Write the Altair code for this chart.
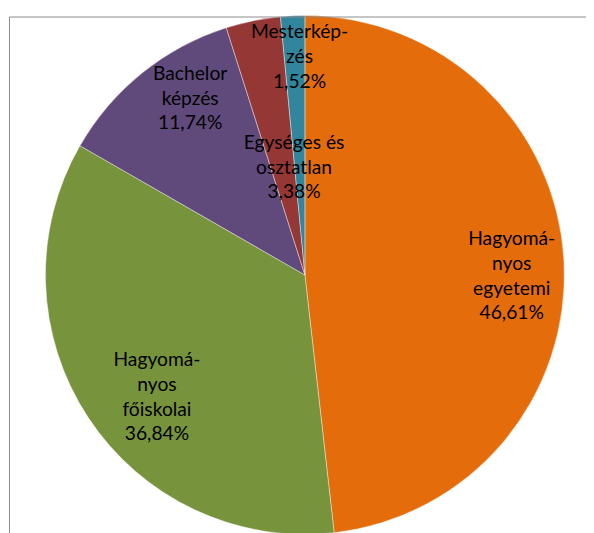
import altair as alt
import pandas as pd

# --- data -------------------------------------------------------------------
categories = [
    "Hagyományos egyetemi",
    "Hagyományos főiskolai",
    "Bachelor képzés",
    "Egységes és osztatlan",
    "Mesterképzés",
]
# percentages printed in the labels
label_pct = ["46,61%", "36,84%", "11,74%", "3,38%", "1,52%"]
# label wording as broken in the picture
label_words = [
    "Hagyomá-\nnyos\negyetemi",
    "Hagyomá-\nnyos\nfőiskolai",
    "Bachelor\nképzés",
    "Egységes és\nosztatlan",
    "Mesterkép-\nzés",
]
# slice sizes (percent) as drawn in the picture
slice_share = [48.2, 35.1, 11.8, 3.4, 1.5]

colors = ["#E46C0A", "#77933C", "#604A7B", "#953735", "#31859C"]

# --- label layout (pixels) --------------------------------------------------
LINE_H = 25
label_radius = [203, 195, 214, 110, 221]
label_dx = [7, 13, 18, 11, 5]
label_dy = [13, 17, -12, -1, 0]

labels_text = [w + "\n" + p for w, p in zip(label_words, label_pct)]
# Vega anchors the first line; shift each block so it is centred on its anchor
label_dy_centered = [d - t.count("\n") * LINE_H / 2 for d, t in zip(label_dy, labels_text)]

df = pd.DataFrame({
    "idx": list(range(len(categories))),
    "cat": categories,
    "share": slice_share,
    "label": labels_text,
    "lr": label_radius,
    "ldx": label_dx,
    "ldy": label_dy_centered,
})

CX, CY, R = 301, 267, 263

theta_scale = alt.Scale(domain=[0, 100])

base = alt.Chart(df).transform_window(
    cum="sum(share)", sort=[alt.SortField("idx", order="ascending")]
).transform_calculate(
    start="datum.cum - datum.share",
    mid="datum.cum - datum.share / 2",
)

pie = base.mark_arc(outerRadius=R, stroke="#ffffff", strokeWidth=0.4).encode(
    theta=alt.Theta("start:Q", scale=theta_scale),
    theta2="cum:Q",
    color=alt.Color("cat:N", scale=alt.Scale(domain=categories, range=colors), legend=None),
    x=alt.value(CX),
    y=alt.value(CY),
)

labels = base.mark_text(
    font="Lato",
    fontSize=19.5,
    lineBreak="\n",
    lineHeight=LINE_H,
    align="center",
    baseline="middle",
    color="#000000",
    dx={"expr": "datum.ldx"},
    dy={"expr": "datum.ldy"},
).encode(
    theta=alt.Theta("mid:Q", scale=theta_scale),
    text="label:N",
    radius=alt.Radius("lr:Q", scale=None),
    x=alt.value(CX),
    y=alt.value(CY),
)

frame = alt.Chart(pd.DataFrame({"f": [0]})).mark_rect(
    fill=None, stroke="#8a8a8a", strokeWidth=1
).encode(
    x=alt.value(1.5), x2=alt.value(1500), y=alt.value(5.5), y2=alt.value(1500)
)

chart = alt.layer(pie, labels, frame).properties(
    width=586,
    height=525,
    padding=0,
    autosize=alt.AutoSizeParams(type="none"),
).configure_view(stroke=None)

chart.save("out.html", embed_options={"renderer": "svg", "actions": False})
